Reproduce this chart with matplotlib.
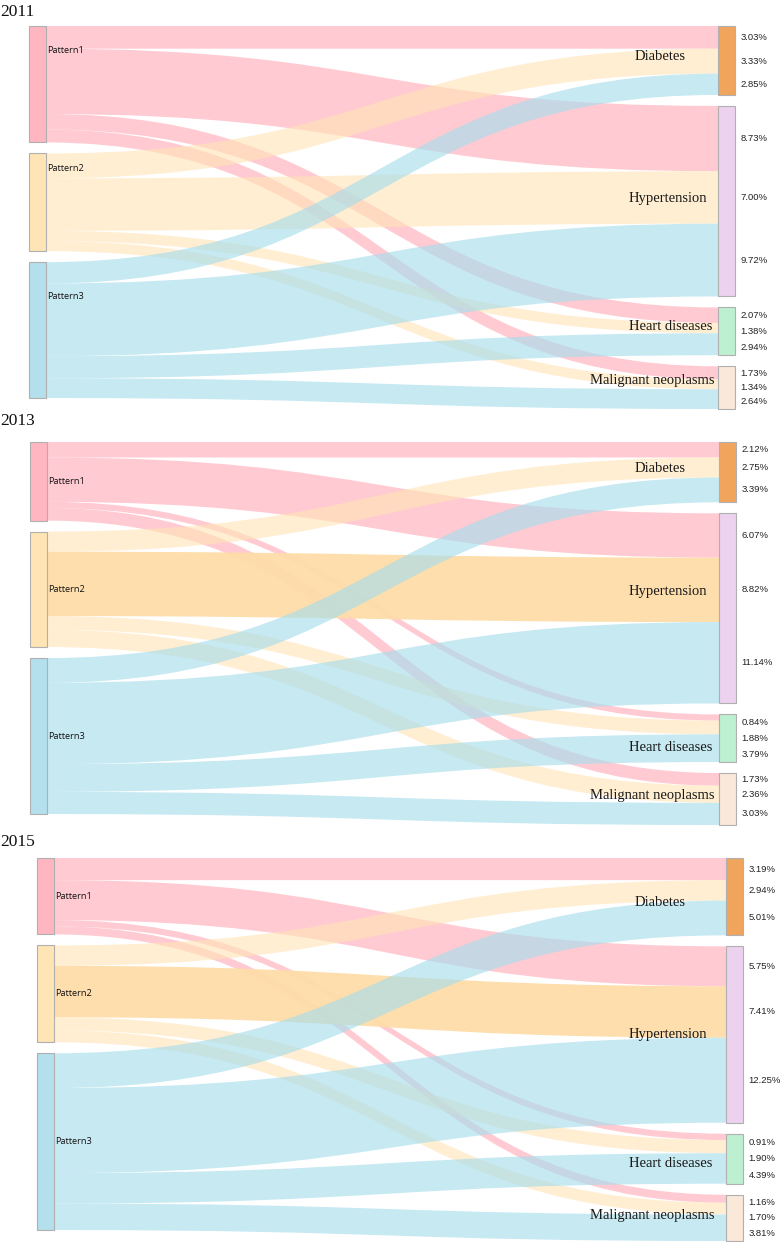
import numpy as np
import matplotlib.pyplot as plt
from matplotlib.path import Path
from matplotlib.patches import PathPatch, Rectangle

# ---- data (percent of population) ----
years = ['2011', '2013', '2015']
patterns = ['Pattern1', 'Pattern2', 'Pattern3']
diseases = ['Diabetes', 'Hypertension', 'Heart diseases', 'Malignant neoplasms']

# rows: Pattern1..3, cols: Diabetes, Hypertension, Heart diseases, Malignant neoplasms
flows_2011 = [[3.03, 8.73, 2.07, 1.73],
              [3.33, 7.00, 1.38, 1.34],
              [2.85, 9.72, 2.94, 2.64]]
flows_2013 = [[2.12, 6.07, 0.84, 1.73],
              [2.75, 8.82, 1.88, 2.36],
              [3.39, 11.14, 3.79, 3.03]]
flows_2015 = [[3.19, 5.75, 0.91, 1.16],
              [2.94, 7.41, 1.90, 1.70],
              [5.01, 12.25, 4.39, 3.81]]
all_flows = [flows_2011, flows_2013, flows_2015]

# ---- styling / layout (pixels) ----
pattern_colors = ['#FFB6C1', '#FFE4B5', '#B3E0EC']
link_colors = ['#FFB6C1', '#FFE4B5', '#A6DDEC']
link_alpha = [0.72, 0.6, 0.64]
disease_colors = ['#F0A45C', '#ECD2EE', '#BDEFD1', '#FAE8D9']
edge_col = '#B0B0B0'

panel_top = [26, 442, 858]
title_y = [12, 421, 842]
left_x = [29, 30, 37]
right_x = [718, 719, 726]
node_w = 16.5
col_h = 372
gap = 11
pattern_label_dy = [-34, 0, 0]
disease_label_dy = [[-3.5, -3, -4.5, -7], [-4, -17, 9, -3], [6, 0, 5, -2]]
disease_label_right = [686, 707, 712, 715]
emphasis = [None, (1, 1), (1, 1)]

W, H = 780, 1242
fig = plt.figure(figsize=(W / 100, H / 100), dpi=100)
ax = fig.add_axes([0, 0, 1, 1])
ax.set_xlim(0, W)
ax.set_ylim(H, 0)
ax.axis('off')


def band(ax, x0, y0a, y0b, x1, y1a, y1b, color, alpha):
    xm = (x0 + x1) / 2
    verts = [(x0, y0a), (xm, y0a), (xm, y1a), (x1, y1a),
             (x1, y1b), (xm, y1b), (xm, y0b), (x0, y0b), (x0, y0a)]
    codes = [Path.MOVETO, Path.CURVE4, Path.CURVE4, Path.CURVE4,
             Path.LINETO, Path.CURVE4, Path.CURVE4, Path.CURVE4, Path.CLOSEPOLY]
    ax.add_patch(PathPatch(Path(verts, codes), facecolor=color, alpha=alpha,
                           edgecolor='none', zorder=1))


for p, flows in enumerate(all_flows):
    F = np.array(flows)
    top = panel_top[p]
    k = (col_h - 2 * gap) / F.sum()
    src_h = F.sum(axis=1) * k
    tgt_h = F.sum(axis=0) * k
    src_top = top + np.concatenate([[0], np.cumsum(src_h + gap)[:-1]])
    tgt_top = top + np.concatenate([[0], np.cumsum(tgt_h + gap)[:-1]])
    x0 = left_x[p] + node_w
    x1 = right_x[p]

    # links
    src_off = np.zeros(3)
    tgt_off = np.zeros(4)
    seg = np.zeros((3, 4, 2))
    for i in range(3):
        for j in range(4):
            h = F[i, j] * k
            sa = src_top[i] + src_off[i]
            ta = tgt_top[j] + tgt_off[j]
            seg[i, j] = [ta, ta + h]
            src_off[i] += h
            tgt_off[j] += h
            color, alpha = link_colors[i], link_alpha[i]
            if emphasis[p] == (i, j):
                color, alpha = '#FDDDA8', 0.95
            band(ax, x0, sa, sa + h, x1, ta, ta + h, color, alpha)

    # source nodes
    for i in range(3):
        ax.add_patch(Rectangle((left_x[p], src_top[i]), node_w, src_h[i],
                               facecolor=pattern_colors[i], edgecolor=edge_col,
                               lw=0.8, zorder=3))
        ax.text(x0 + 1.5, src_top[i] + src_h[i] / 2 + pattern_label_dy[p],
                patterns[i], fontsize=6.6, family='Open Sans', color='#111111',
                ha='left', va='center', zorder=4)

    # target nodes + labels
    for j in range(4):
        ax.add_patch(Rectangle((x1, tgt_top[j]), node_w, tgt_h[j],
                               facecolor=disease_colors[j], edgecolor=edge_col,
                               lw=0.8, zorder=3))
        ax.text(disease_label_right[j], tgt_top[j] + tgt_h[j] / 2 + disease_label_dy[p][j],
                diseases[j], fontsize=10.5, family='Liberation Serif', color='#1a1a1a',
                ha='right', va='center', zorder=4)
        centers = seg[:, j].mean(axis=1)
        if np.min(np.diff(centers)) < 14:
            centers = tgt_top[j] + tgt_h[j] * (np.arange(3) + 0.5) / 3
        for i in range(3):
            ax.text(x1 + node_w + 6, centers[i], f'{F[i, j]:.2f}%', fontsize=6.8,
                    family='Liberation Sans', color='#222222', ha='left', va='center')

    ax.text(0, title_y[p], years[p], fontsize=12.5, family='Liberation Serif',
            color='#111111', ha='left', va='center')

fig.savefig('out.png', dpi=100)
